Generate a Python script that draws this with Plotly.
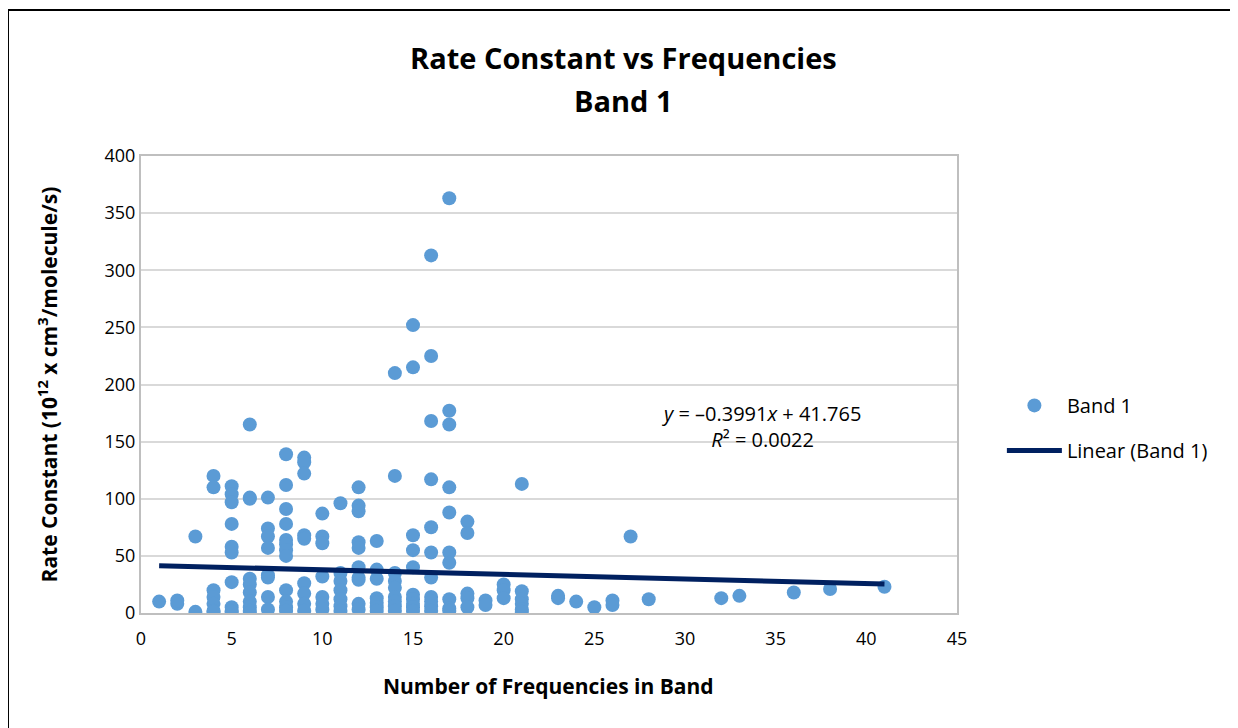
import plotly.graph_objects as go

# Data (x = number of frequencies, y = rate constant)
freq_1 = [1]; rate_1 = [10]
freq_2 = [2, 2]; rate_2 = [8, 11]
freq_3 = [3, 3]; rate_3 = [67, 1]
freq_4 = [4] * 7; rate_4 = [120, 110, 20, 14, 8, 2, 1]
freq_5 = [5] * 10; rate_5 = [111, 104, 97, 78, 58, 53, 27, 5, 2, 1]
freq_6 = [6] * 10; rate_6 = [165, 101, 100, 30, 25, 18, 10, 5, 2, 0]
freq_7 = [7] * 8; rate_7 = [101, 74, 67, 57, 33, 31, 14, 3]
freq_8 = [8] * 12; rate_8 = [139, 112, 91, 78, 64, 60, 55, 50, 20, 10, 5, 2]
freq_9 = [9] * 9; rate_9 = [136, 132, 122, 68, 65, 26, 17, 8, 2]
freq_10 = [10] * 7; rate_10 = [87, 67, 61, 32, 14, 8, 3]
freq_11 = [11] * 7; rate_11 = [96, 35, 28, 20, 12, 6, 2]
freq_12 = [12] * 10; rate_12 = [110, 94, 89, 62, 57, 40, 31, 29, 8, 3]
freq_13 = [13] * 7; rate_13 = [63, 38, 30, 13, 9, 5, 2]
freq_14 = [14] * 9; rate_14 = [210, 120, 35, 28, 22, 14, 10, 6, 2]
freq_15 = [15] * 10; rate_15 = [252, 215, 68, 55, 40, 16, 12, 8, 5, 2]
freq_16 = [16] * 11; rate_16 = [313, 225, 168, 117, 75, 53, 31, 14, 10, 6, 2]
freq_17 = [17] * 10; rate_17 = [363, 177, 165, 110, 88, 53, 44, 12, 4, 2]
freq_18 = [18] * 5; rate_18 = [80, 70, 17, 13, 5]
freq_19 = [19, 19]; rate_19 = [11, 7]
freq_20 = [20] * 3; rate_20 = [25, 20, 13]
freq_21 = [21] * 6; rate_21 = [113, 19, 12, 8, 3, 1]
freq_hi = [23, 23, 24, 25, 26, 26, 27, 28, 32, 33, 36, 38, 41]
rate_hi = [15, 13, 10, 5, 11, 7, 67, 12, 13, 15, 18, 21, 23]

freqs = (freq_1 + freq_2 + freq_3 + freq_4 + freq_5 + freq_6 + freq_7 + freq_8 + freq_9
         + freq_10 + freq_11 + freq_12 + freq_13 + freq_14 + freq_15 + freq_16 + freq_17
         + freq_18 + freq_19 + freq_20 + freq_21 + freq_hi)
rates = (rate_1 + rate_2 + rate_3 + rate_4 + rate_5 + rate_6 + rate_7 + rate_8 + rate_9
         + rate_10 + rate_11 + rate_12 + rate_13 + rate_14 + rate_15 + rate_16 + rate_17
         + rate_18 + rate_19 + rate_20 + rate_21 + rate_hi)

# Trendline (as given on the chart)
slope = -0.3991
intercept = 41.765
trend_x = [1, 41]
trend_y = [slope * v + intercept for v in trend_x]

x_ticks = [0, 5, 10, 15, 20, 25, 30, 35, 40, 45]
y_ticks = [0, 50, 100, 150, 200, 250, 300, 350, 400]

FONT = "Open Sans"

fig = go.Figure()
fig.add_trace(go.Scatter(
    x=freqs, y=rates, mode="markers", name="Band 1", legendgroup="a",
    marker=dict(color="#5B9BD5", size=14, line=dict(width=0)),
))
fig.add_trace(go.Scatter(
    x=trend_x, y=trend_y, mode="lines", name="Linear (Band 1)", legendgroup="b",
    line=dict(color="#002060", width=5),
))

# page body has an 8px margin; compensate so the plot area lands at 141..957 x 156..613
fig.update_layout(
    width=1238, height=728,
    margin=dict(l=133, r=289, t=148, b=123),
    paper_bgcolor="white", plot_bgcolor="white",
    font=dict(family=FONT, size=18, color="#000000"),
    xaxis=dict(
        range=[0, 45], tickvals=x_ticks, showgrid=False, zeroline=False,
        showline=True, linecolor="#BFBFBF", linewidth=2, mirror=True,
        ticks="", tickfont=dict(size=18), ticklabelstandoff=8,
    ),
    yaxis=dict(
        range=[0, 400], tickvals=y_ticks, showgrid=True, gridcolor="#D9D9D9", gridwidth=2,
        zeroline=False, showline=True, linecolor="#BFBFBF", linewidth=2, mirror=True,
        ticks="", tickfont=dict(size=18),
    ),
    legend=dict(
        x=1.055, y=0.405, xanchor="left", yanchor="middle",
        font=dict(size=20), bgcolor="rgba(0,0,0,0)",
        traceorder="grouped", tracegroupgap=16, itemwidth=55,
    ),
    showlegend=True,
)

# Title lines
fig.add_annotation(x=0.5907, y=1.2166, xref="paper", yref="paper", xanchor="center", yanchor="middle",
                   text="<b>Rate Constant vs Frequencies</b>", showarrow=False,
                   font=dict(family=FONT, size=29))
fig.add_annotation(x=0.5907, y=1.1204, xref="paper", yref="paper", xanchor="center", yanchor="middle",
                   text="<b>Band 1</b>", showarrow=False,
                   font=dict(family=FONT, size=29))

# Axis titles
fig.add_annotation(x=0.4988, y=-0.16, xref="paper", yref="paper", xanchor="center", yanchor="middle",
                   text="<b>Number of Frequencies in Band</b>", showarrow=False,
                   font=dict(family=FONT, size=21))
fig.add_annotation(x=-0.114, y=0.5, xref="paper", yref="paper", xanchor="center", yanchor="middle",
                   text="<b>Rate Constant (10<sup>12</sup> x cm<sup>3</sup>/molecule/s)</b>",
                   textangle=-90, showarrow=False, font=dict(family=FONT, size=21))

# Trendline equation
fig.add_annotation(
    x=0.761, y=0.408, xref="paper", yref="paper", xanchor="center", yanchor="middle",
    text="<i>y</i> = \u20130.3991<i>x</i> + 41.765<br><i>R</i>\u00b2 = 0.0022",
    showarrow=False, align="center", font=dict(family=FONT, size=20),
)

# Outer chart frame
fig.add_shape(
    type="rect", xref="paper", yref="paper",
    x0=-0.163, x1=1.337, y0=-0.3, y1=1.3195,
    line=dict(color="#000000", width=2), fillcolor="rgba(0,0,0,0)", layer="below",
)

fig.write_html("out.html")
